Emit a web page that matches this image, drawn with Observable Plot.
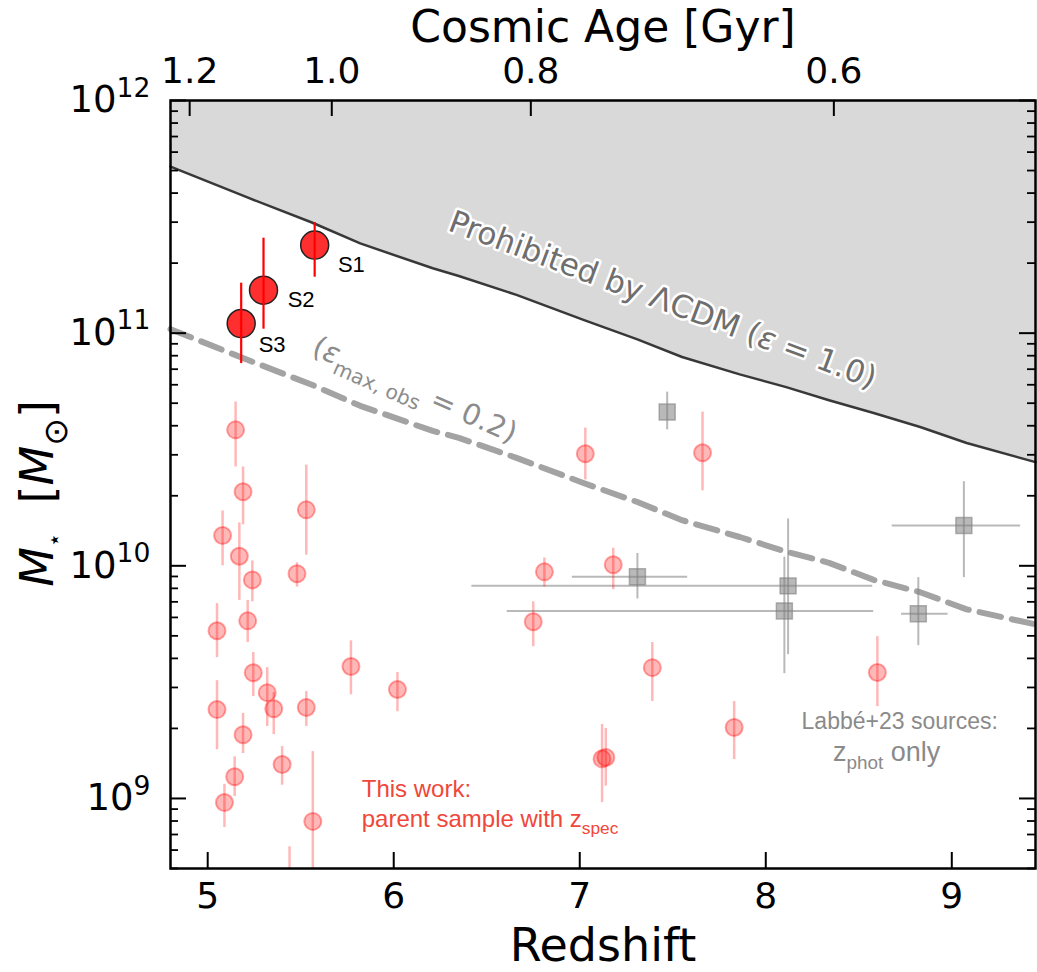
<!DOCTYPE html>
<html><head><meta charset="utf-8">
<script src="https://cdn.jsdelivr.net/npm/d3@7"></script>
<script src="https://cdn.jsdelivr.net/npm/@observablehq/plot@0.6"></script>
<style>body{margin:0;background:#fff;}</style>
</head><body><div id="chart"></div>
<script>
// ---------- data ----------
const redshiftTicks = [5, 6, 7, 8, 9];
const massTicks = [1e9, 1e10, 1e11, 1e12];
const ageLabels = [1.2, 1.0, 0.8, 0.6];
const ageRedshift = [4.903, 5.667, 6.737, 8.366];

// maximum stellar mass curves
const curveZ   = [4.8, 5.21, 5.56, 5.82, 6.21, 6.35, 6.66, 7.02, 7.31, 7.55, 7.86, 8.11, 8.34, 8.58, 8.83, 9.08, 9.45];
const lcdmMax  = [5.2e11, 3.84e11, 2.99e11, 2.43e11, 1.90e11, 1.76e11, 1.46e11, 1.14e11, 9.4e10, 7.9e10, 6.65e10, 5.86e10, 5.15e10, 4.54e10, 3.95e10, 3.37e10, 2.79e10];
const obsMax   = [1.04e11, 7.7e10, 6.0e10, 4.87e10, 3.8e10, 3.55e10, 2.91e10, 2.27e10, 1.88e10, 1.57e10, 1.33e10, 1.15e10, 1.03e10, 8.7e9, 7.7e9, 6.5e9, 5.6e9];

// S1-S3
const sNames = ["S1", "S2", "S3"];
const sZ  = [5.575, 5.30, 5.18];
const sM  = [2.39e11, 1.53e11, 1.10e11];
const sLo = [1.74e11, 1.04e11, 7.4e10];
const sHi = [2.99e11, 2.56e11, 1.64e11];
const sLabelZ = [5.70, 5.43, 5.274];
const sLabelM = [1.96e11, 1.39e11, 8.87e10];

// parent sample with z_spec
const parentZ  = [5.15, 5.19, 5.08, 5.17, 5.24, 5.53, 5.48, 5.215, 5.05, 5.245, 5.77, 6.02, 5.05, 5.32, 5.355, 5.53, 5.19, 5.40, 5.145, 5.09, 5.565, 5.44, 7.12, 7.14, 7.39, 7.03, 7.66, 6.81, 7.18, 6.75, 8.60, 7.83];
const parentM  = [3.84e10, 2.08e10, 1.35e10, 1.10e10, 8.7e9, 1.74e10, 9.25e9, 5.8e9, 5.26e9, 3.47e9, 3.69e9, 2.94e9, 2.41e9, 2.85e9, 2.43e9, 2.46e9, 1.88e9, 1.40e9, 1.24e9, 9.6e8, 7.97e8, 4.0e8, 1.48e9, 1.50e9, 3.65e9, 3.03e10, 3.06e10, 9.42e9, 1.01e10, 5.75e9, 3.48e9, 2.02e9];
const parentLo = [2.66e10, 1.50e10, 1.0e10, 7.1e9, 7.0e9, 1.11e10, 8.1e9, 4.68e9, 4.03e9, 2.74e9, 2.79e9, 2.36e9, 1.62e9, 2.04e9, 1.88e9, 2.04e9, 1.56e9, 1.14e9, 1.02e9, 7.5e8, 3.0e8, 2.5e8, 9.6e8, 1.13e9, 2.61e9, 2.34e10, 2.10e10, 8.1e9, 7.9e9, 4.49e9, 2.48e9, 1.47e9];
const parentHi = [5.06e10, 2.66e10, 1.72e10, 1.53e10, 1.05e10, 2.71e10, 1.03e10, 7.1e9, 6.88e9, 4.24e9, 4.76e9, 3.48e9, 3.21e9, 3.65e9, 2.85e9, 2.88e9, 2.32e9, 1.67e9, 1.51e9, 1.15e9, 1.59e9, 6.2e8, 2.08e9, 2.0e9, 4.68e9, 3.91e10, 4.58e10, 1.08e10, 1.19e10, 7.0e9, 4.96e9, 2.61e9];

// Labbe+23 (z_phot only)
const labbeZ   = [7.47, 7.31, 8.12, 8.10, 8.82, 9.065];
const labbeM   = [4.58e10, 8.97e9, 8.2e9, 6.4e9, 6.22e9, 1.49e10];
const labbeZLo = [7.47, 6.96, 6.42, 6.61, 8.73, 8.68];
const labbeZHi = [7.47, 7.58, 8.575, 8.58, 8.98, 9.37];
const labbeMLo = [3.84e10, 7.2e9, 4.15e9, 3.44e9, 4.54e9, 8.9e9];
const labbeMHi = [5.58e10, 1.13e10, 1.59e10, 1.09e10, 8.9e9, 2.30e10];

// annotations
const noteText = ["Prohibited by ΛCDM (ε = 1.0)", "(ε_max, obs = 0.2)"];
const noteZ = [7.446, 6.113];
const noteM = [1.387e11, 5.69e10];
const noteAngle = [20.5, 24];
const legendText = ["This work:", "parent sample with z_spec", "Labbé+23 sources:", "z_phot only"];
const legendZ = [5.828, 5.828, 8.72, 8.65];
const legendM = [1.094e9, 8.13e8, 2.14e9, 1.58e9];
const legendSize = [24, 24, 23, 27];

// ---------- layout ----------
const W = 1037, H = 972, mL = 170, mR = 2, mT = 100, mB = 104;
const innerW = W - mL - mR, innerH = H - mT - mB;
const xDomain = [4.8, 9.45], yDomain = [5e8, 1e12];
const majorLen = 16, minorLen = 8;

const curve = curveZ.map((z, i) => ({z, lcdm: lcdmMax[i], obs: obsMax[i]}));
const sPts = sZ.map((z, i) => ({z, m: sM[i], lo: sLo[i], hi: sHi[i], name: sNames[i], lz: sLabelZ[i], lm: sLabelM[i]}));
const parent = parentZ.map((z, i) => ({z, m: parentM[i], lo: parentLo[i], hi: parentHi[i]}));
const labbe = labbeZ.map((z, i) => ({z, m: labbeM[i], zlo: labbeZLo[i], zhi: labbeZHi[i], mlo: labbeMLo[i], mhi: labbeMHi[i]}));
const notes = noteText.map((t, i) => ({t, z: noteZ[i], m: noteM[i], a: noteAngle[i]}));
const legends = legendText.map((t, i) => ({t, z: legendZ[i], m: legendM[i], s: legendSize[i]}));

const minorTicks = [];
for (let e = 8; e <= 11; e++) for (let k = 2; k <= 9; k++) {
  const v = k * Math.pow(10, e);
  if (v >= yDomain[0] && v <= yDomain[1]) minorTicks.push(v);
}

const chart = Plot.plot({
  width: W, height: H,
  marginLeft: mL, marginRight: mR, marginTop: mT, marginBottom: mB,
  x: {domain: xDomain},
  y: {type: "log", domain: yDomain},
  style: {fontFamily: "DejaVu Sans", fontSize: "36px", background: "white", color: "black"},
  marks: [
    Plot.areaY(curve, {x: "z", y1: "lcdm", y2: () => yDomain[1], fill: "#d9d9d9"}),
    Plot.line(curve, {x: "z", y: "lcdm", stroke: "#383838", strokeWidth: 2.5}),
    Plot.line(curve, {x: "z", y: "obs", stroke: "#a3a3a3", strokeWidth: 6, strokeDasharray: "22,11"}),

    // Labbe+23
    Plot.ruleY(labbe, {y: "m", x1: "zlo", x2: "zhi", stroke: "#808080", strokeOpacity: 0.55, strokeWidth: 2}),
    Plot.ruleX(labbe, {x: "z", y1: "mlo", y2: "mhi", stroke: "#808080", strokeOpacity: 0.55, strokeWidth: 2}),
    Plot.dot(labbe, {x: "z", y: "m", symbol: "square", r: 9, fill: "#808080", fillOpacity: 0.55, stroke: "#808080", strokeOpacity: 0.6, strokeWidth: 1.5}),

    // parent sample
    Plot.ruleX(parent, {x: "z", y1: "lo", y2: "hi", stroke: "red", strokeOpacity: 0.28, strokeWidth: 2.5, clip: true}),
    Plot.dot(parent, {x: "z", y: "m", r: 8.5, fill: "red", fillOpacity: 0.28, stroke: "red", strokeOpacity: 0.35, strokeWidth: 2, clip: true}),

    // S1-S3
    Plot.dot(sPts, {x: "z", y: "m", r: 14, fill: "#ff2f2f", stroke: "#222", strokeWidth: 1.5}),
    Plot.ruleX(sPts, {x: "z", y1: "lo", y2: "hi", stroke: "red", strokeWidth: 2.2}),
    Plot.text(sPts, {x: "lz", y: "lm", text: "name", textAnchor: "start", fontFamily: "Liberation Sans", fontSize: 22, fill: "black"}),

    // annotations
    Plot.text(notes.slice(0, 1), {x: "z", y: "m", text: "t", rotate: notes[0].a, fontSize: 31, fill: "#6e6e6e", stroke: "white", strokeWidth: 5}),
    Plot.text(notes.slice(1), {x: "z", y: "m", text: "t", rotate: notes[1].a, fontSize: 29, fill: "#8c8c8c"}),
    Plot.text(legends.slice(0, 2), {x: "z", y: "m", text: "t", textAnchor: "start", fontFamily: "Liberation Sans", fontSize: "s", fill: "#f0473a"}),
    Plot.text(legends.slice(2), {x: "z", y: "m", text: "t", textAnchor: "middle", fontFamily: "Liberation Sans", fontSize: "s", fill: "#8a8a8a"}),

    // inward ticks
    Plot.tickY(massTicks, {y: d => d, insetRight: innerW - majorLen, stroke: "black", strokeWidth: 2}),
    Plot.tickY(massTicks, {y: d => d, insetLeft: innerW - majorLen, stroke: "black", strokeWidth: 2}),
    Plot.tickY(minorTicks, {y: d => d, insetRight: innerW - minorLen, stroke: "black", strokeWidth: 1.8}),
    Plot.tickY(minorTicks, {y: d => d, insetLeft: innerW - minorLen, stroke: "black", strokeWidth: 1.8}),
    Plot.tickX(redshiftTicks, {x: d => d, insetTop: innerH - majorLen, stroke: "black", strokeWidth: 2}),
    Plot.tickX(ageRedshift, {x: d => d, insetBottom: innerH - majorLen, stroke: "black", strokeWidth: 2}),

    // axes labels
    Plot.axisX({anchor: "bottom", ticks: redshiftTicks, tickSize: 0, tickPadding: 14, label: null, tickFormat: d => String(d)}),
    Plot.axisX({anchor: "top", ticks: ageRedshift, tickSize: 0, tickPadding: 18, label: null,
      tickFormat: d => ageLabels[ageRedshift.indexOf(d)].toFixed(1)}),
    Plot.axisY({anchor: "left", ticks: massTicks, tickSize: 0, tickPadding: 20, label: null, fontSize: 37,
      tickFormat: d => "10^" + Math.round(Math.log10(d))}),
    Plot.text(["Cosmic Age [Gyr]"], {frameAnchor: "top", lineAnchor: "middle", dy: -73, fontSize: 44, text: d => d}),
    Plot.text(["Redshift"], {frameAnchor: "bottom", lineAnchor: "middle", dy: 78, fontSize: 46, text: d => d}),
    Plot.text(["Mstar_label"], {frameAnchor: "left", textAnchor: "middle", lineAnchor: "middle", dx: -132, dy: 9, rotate: -90, fontSize: 46, text: d => d}),
    Plot.frame({stroke: "black", strokeWidth: 2.5})
  ]
});

document.getElementById("chart").appendChild(chart);

// ---------- rich text (italic / sub / superscripts) ----------
function rich(el, parts, base) {
  const t = d3.select(el);
  t.text(null);
  let shift = 0;
  parts.forEach(p => {
    const ts = t.append("tspan").text(p.t);
    const target = p.sub ? base * (p.subShift || 0.3) : p.sup ? -base * 0.42 : 0;
    if (target !== shift) ts.attr("dy", target - shift);
    shift = target;
    if (p.italic) ts.attr("font-style", "italic");
    if (p.size) ts.attr("font-size", base * p.size);
  });
}
const svg = d3.select(chart.tagName.toLowerCase() === "svg" ? chart : chart.querySelector("svg"));
svg.selectAll("text").each(function () {
  const s = this.textContent;
  let m;
  if ((m = s.match(/^10\^(\d+)$/))) {
    rich(this, [{t: "10"}, {t: m[1], sup: true, size: 0.72}], 37);
  } else if (s === "Mstar_label") {
    rich(this, [{t: "M", italic: true}, {t: "⋆", sub: true, size: 0.5, subShift: 0.2}, {t: "  ["}, {t: "M", italic: true}, {t: "⊙", sub: true, size: 0.72}, {t: "]"}], 46);
  } else if (s === noteText[0]) {
    rich(this, [{t: "Prohibited by ΛCDM ("}, {t: "ε", italic: true}, {t: " = 1.0)"}], 31);
  } else if (s === noteText[1]) {
    rich(this, [{t: "("}, {t: "ε", italic: true}, {t: "max, obs", sub: true, size: 0.7}, {t: " = 0.2)"}], 29);
  } else if (s === legendText[1]) {
    rich(this, [{t: "parent sample with z"}, {t: "spec", sub: true, size: 0.72}], 24);
  } else if (s === legendText[3]) {
    rich(this, [{t: "z"}, {t: "phot", sub: true, size: 0.7}, {t: " only"}], 27);
  }
});
</script>
</body></html>
